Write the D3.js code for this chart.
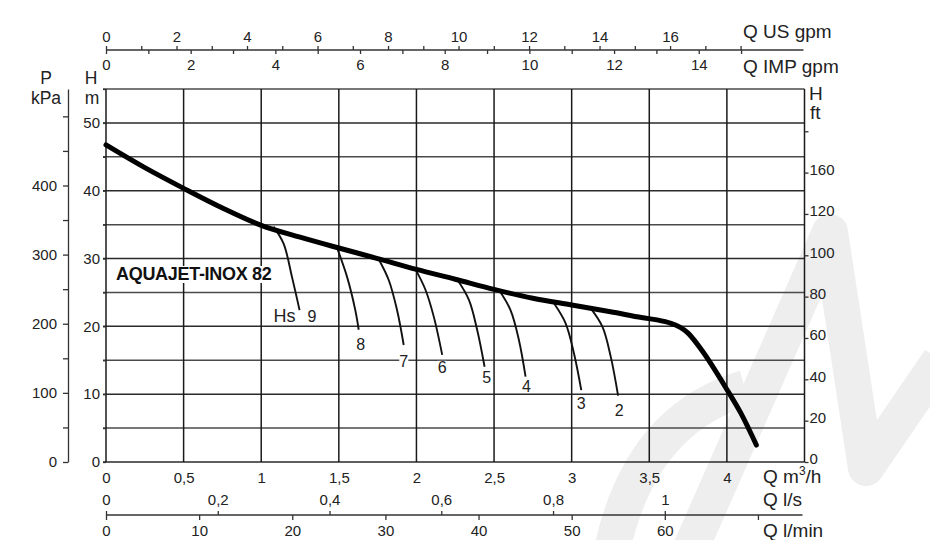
<!DOCTYPE html>
<html><head><meta charset="utf-8">
<script src="https://cdn.jsdelivr.net/npm/d3@7/dist/d3.min.js"></script>
<style>
body{margin:0;background:#fff}
svg{display:block;font-family:"Liberation Sans",Arial,Helvetica,sans-serif}
</style>
</head><body>
<svg id="c" width="930" height="540"></svg>
<script>
// ---------- DATA ----------
// Main pump curve: [Q m3/h, H m]
const mainCurve = [[0,46.75],[0.25,43.4],[0.5,40.35],[0.75,37.45],[1.0,34.9],[1.25,33.15],[1.5,31.55],[1.75,30.0],[2.0,28.4],[2.25,26.95],[2.5,25.45],[2.75,24.15],[3.0,23.15],[3.25,22.15],[3.45,21.3],[3.55,20.95],[3.64,20.45],[3.7,19.85],[3.75,19.0],[3.85,16.1],[4.0,10.7],[4.09,7.2],[4.19,2.5]];
// Suction-lift (Hs) branch curves
const branchNames = ["9","8","7","6","5","4","3","2"];
const hs9 = [[1.079,34.7],[1.144,32.2],[1.198,27.3],[1.247,22.4]];
const hs8 = [[1.488,31.6],[1.553,27.3],[1.606,22.4],[1.628,19.5]];
const hs7 = [[1.757,29.9],[1.822,26.8],[1.875,22.4],[1.918,17.25]];
const hs6 = [[1.994,28.4],[2.058,25.4],[2.112,21.4],[2.166,15.8]];
const hs5 = [[2.263,26.9],[2.338,23.9],[2.391,19.5],[2.439,14.05]];
const hs4 = [[2.531,25.4],[2.606,22.4],[2.66,18.0],[2.703,12.6]];
const hs3 = [[2.886,23.4],[2.961,20.45],[3.015,16.0],[3.062,10.6]];
const hs2 = [[3.123,22.65],[3.198,19.95],[3.252,15.5],[3.299,9.8]];
const branches = [hs9,hs8,hs7,hs6,hs5,hs4,hs3,hs2];

const qM3hGrid = [0,0.5,1,1.5,2,2.5,3,3.5,4,4.5];
const qM3hLabels = ["0","0,5","1","1,5","2","2,5","3","3,5","4"];
const hGrid = [0,5,10,15,20,25,30,35,40,45,50,55];
const hLabels = [0,10,20,30,40,50];
const kPaTicks = [0,50,100,150,200,250,300,350,400,450,500];
const kPaLabels = [0,100,200,300,400];
const ftTicks = [0,20,40,60,80,100,120,140,160];
const ftLabels = ["0","20","40","60","80","100","120","160",""];
const usGpmTicks = d3.range(0,19);
const usGpmLabels = [0,2,4,6,8,10,12,14,16];
const impGpmTicks = d3.range(0,16);
const impGpmLabels = [0,2,4,6,8,10,12,14];
const lsTicks = [0,0.2,0.4,0.6,0.8,1.0];
const lsLabels = ["0","0,2","0,4","0,6","0,8","1"];
const lminTicks = [0,10,20,30,40,50,60,70];
const lminLabels = ["0","10","20","30","40","50","60",""];
const title = "AQUAJET-INOX 82";

// ---------- SCALES ----------
const L = 106, R = 804.5, T = 89, B = 462;
const QMAX = 4.5, HMAX = 55;
const x = d3.scaleLinear([0,QMAX],[L,R]);
const y = d3.scaleLinear([0,HMAX],[B,T]);
const yk = d3.scaleLinear([0,HMAX*9.81],[B,T]);
const yf = d3.scaleLinear([0,HMAX/0.3048],[B,T]);
const xUS = d3.scaleLinear([0,QMAX*4.4029],[L,R]);
const xIMP = d3.scaleLinear([0,QMAX*3.6662],[L,R]);
const xLS = d3.scaleLinear([0,QMAX/3.6],[L,R]);
const xLM = d3.scaleLinear([0,QMAX*1000/60],[L,R]);

const svg = d3.select("#c");
const TXT = "#222", FS = 15;

// ---------- WATERMARK ----------
const wm = svg.append("g").attr("fill","none").attr("stroke","#eeeeee").attr("stroke-linejoin","round");
wm.append("path").attr("d","M690,550 L830,232 L866,468 L940,360").attr("stroke-width",36);
wm.append("path").attr("d","M612,550 Q640,420 745,388").attr("stroke-width",36);

// ---------- GRID ----------
const grid = svg.append("g");
grid.selectAll("line.h").data(hGrid).join("line")
  .attr("x1",L-3).attr("x2",R).attr("y1",d=>y(d)).attr("y2",d=>y(d))
  .attr("stroke",d=>d%10===0?"#2a2a2a":"#4a4a4a").attr("stroke-width",1.5);
grid.selectAll("line.v").data(qM3hGrid).join("line")
  .attr("y1",T).attr("y2",B).attr("x1",d=>x(d)).attr("x2",d=>x(d))
  .attr("stroke","#1a1a1a").attr("stroke-width",1.5);

function styleAxis(g){
  g.attr("font-family",null).attr("font-size",null);
  g.selectAll("text").attr("font-size",FS).attr("fill",TXT);
  g.selectAll("path,line").attr("stroke","#333").attr("stroke-width",1.3);
}

// ---------- LEFT AXES ----------
svg.append("g").attr("transform",`translate(68,0)`)
  .call(d3.axisLeft(yk).tickValues(kPaTicks).tickSize(5).tickPadding(6).tickSizeOuter(0)
    .tickFormat(d=>kPaLabels.includes(d)?String(d):""))
  .call(styleAxis);
svg.append("g").attr("transform",`translate(${L},0)`)
  .call(d3.axisLeft(y).tickValues(hGrid).tickSize(3).tickPadding(3).tickSizeOuter(0)
    .tickFormat(d=>hLabels.includes(d)?String(d):""))
  .call(styleAxis).call(g=>g.select(".domain").remove());

// ---------- RIGHT AXIS (ft) ----------
svg.append("g").attr("transform",`translate(${R},0)`)
  .call(d3.axisRight(yf).tickValues(ftTicks).tickSize(4).tickPadding(1).tickSizeOuter(0)
    .tickFormat((d,i)=>ftLabels[i]))
  .call(styleAxis).call(g=>g.select(".domain").remove())
  .call(g=>g.selectAll("text").attr("dy","0.13em"));

// ---------- TOP AXES ----------
const topY = 50;
svg.append("g").attr("transform",`translate(0,${topY})`)
  .call(d3.axisTop(xUS).tickValues(usGpmTicks).tickSize(4).tickPadding(4).tickSizeOuter(0)
    .tickFormat(d=>usGpmLabels.includes(d)?String(d):""))
  .call(styleAxis).call(g=>g.select(".domain").attr("d",`M${L},0H${R-1}`));
svg.append("g").attr("transform",`translate(0,${topY})`)
  .call(d3.axisBottom(xIMP).tickValues(impGpmTicks).tickSize(4).tickPadding(5).tickSizeOuter(0)
    .tickFormat(d=>impGpmLabels.includes(d)?String(d):""))
  .call(styleAxis).call(g=>g.select(".domain").remove());

// ---------- BOTTOM AXES ----------
svg.append("g").attr("transform",`translate(0,${B})`)
  .call(d3.axisBottom(x).tickValues(qM3hGrid.slice(0,qM3hLabels.length)).tickSize(0).tickPadding(10)
    .tickFormat((d,i)=>qM3hLabels[i]))
  .call(styleAxis).call(g=>g.select(".domain").remove());
const botY = 515;
svg.append("g").attr("transform",`translate(0,${botY})`)
  .call(d3.axisTop(xLS).tickValues(lsTicks).tickSize(4).tickPadding(6).tickSizeOuter(0)
    .tickFormat((d,i)=>lsLabels[i]))
  .call(styleAxis).call(g=>g.select(".domain").attr("d",`M${L},0H${R-2}`));
svg.append("g").attr("transform",`translate(0,${botY})`)
  .call(d3.axisBottom(xLM).tickValues(lminTicks).tickSize(5).tickPadding(5).tickSizeOuter(0)
    .tickFormat((d,i)=>lminLabels[i]))
  .call(styleAxis).call(g=>g.select(".domain").remove());

// ---------- UNIT LABELS ----------
const U = 19;
function txt(s,xx,yy,anchor="start",size=U,weight="normal"){
  return svg.append("text").attr("x",xx).attr("y",yy).attr("text-anchor",anchor)
    .attr("font-size",size).attr("font-weight",weight).attr("fill",TXT).text(s);
}
txt("P",46,84,"middle",17.5);
txt("kPa",46,103.5,"middle",17.5);
txt("H",91,84,"middle",17.5);
txt("m",92,103.5,"middle",17.5);
txt("H",809,100);
txt("ft",810,119);
txt("Q US gpm",743,38);
txt("Q IMP gpm",743,73);
const qm = txt("Q m",763,483);
qm.append("tspan").attr("font-size",12).attr("dy",-8).text("3");
qm.append("tspan").attr("dy",8).text("/h");
txt("Q l/s",763,506);
txt("Q l/min",763,537);

// ---------- CURVES ----------
const line = d3.line().x(d=>x(d[0])).y(d=>y(d[1]));
svg.append("g").selectAll("path").data(branches).join("path")
  .attr("d",d=>line.curve(d3.curveCatmullRom)(d))
  .attr("fill","none").attr("stroke","#111").attr("stroke-width",1.9);
svg.append("path").attr("d",line.curve(d3.curveCatmullRom)(mainCurve))
  .attr("fill","none").attr("stroke","#000").attr("stroke-width",5).attr("stroke-linecap","round");

// ---------- BRANCH LABELS ----------
const labDx = [8,2,0,0,2,1,0,1];
const labDy = [12,20,22,18,16,15,19,20];
const lg = svg.append("g");
branches.forEach((b,i)=>{
  const e = b[b.length-1];
  const t = lg.append("text").attr("x",x(e[0])+labDx[i]).attr("y",y(e[1])+labDy[i])
    .attr("text-anchor",i===0?"start":"middle").attr("font-size",16).attr("fill",TXT).text(branchNames[i]);
  const bb = t.node().getBBox();
  lg.insert("rect","text").attr("x",bb.x).attr("y",bb.y+2).attr("width",bb.width).attr("height",bb.height-4).attr("fill","#fff");
  if(i===0){
    lg.append("text").attr("x",x(e[0])-4).attr("y",y(e[1])+12).attr("text-anchor","end")
      .attr("font-size",18).attr("fill",TXT).text("Hs");
  }
});
lg.selectAll("text").raise();

// ---------- TITLE ----------
const tt = svg.append("text").attr("x",116).attr("y",280).attr("font-size",18).attr("font-weight","bold")
  .attr("fill","#111").attr("letter-spacing",-0.3).text(title);
const tb = tt.node().getBBox();
svg.insert("rect",()=>tt.node()).attr("x",tb.x-1).attr("y",tb.y+2).attr("width",tb.width+2).attr("height",tb.height-3).attr("fill","#fff");
</script>
</body></html>
